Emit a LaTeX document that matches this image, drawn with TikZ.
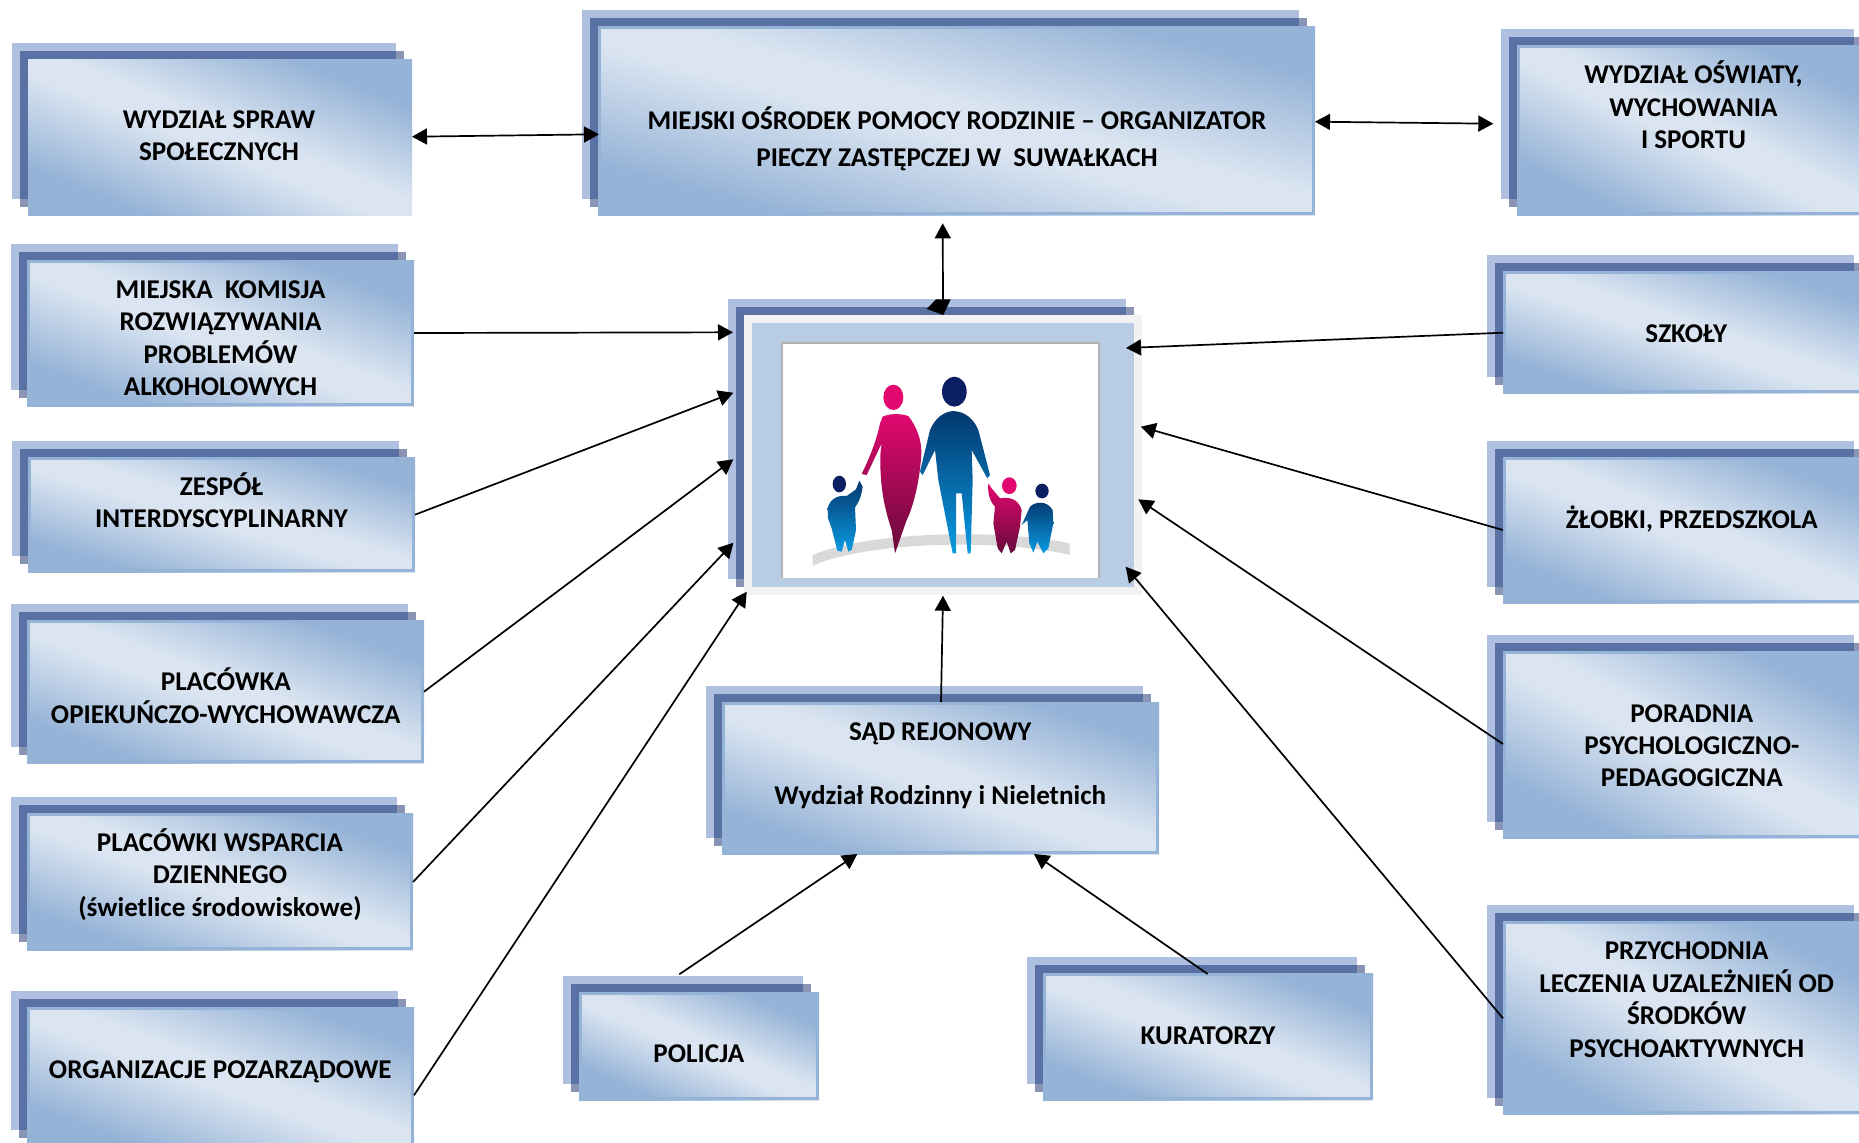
\documentclass[tikz,border=0pt]{standalone}
\usepackage{fontspec}
\setmainfont{Carlito}
\usetikzlibrary{arrows.meta}
\definecolor{gd}{HTML}{95B3D7}
\definecolor{gl}{HTML}{DBE5F1}
\definecolor{innerblue}{HTML}{B8CCE4}
\definecolor{backlight}{HTML}{AFBFE0}
\definecolor{backdark}{HTML}{5A71A3}
\definecolor{backfade}{HTML}{8A95B5}
\definecolor{pinkhi}{HTML}{E2086F}
\definecolor{pinklo}{HTML}{660A3A}
\definecolor{bluehi}{HTML}{04376E}
\definecolor{bluelo}{HTML}{0A9BE2}
\definecolor{navyh}{HTML}{0B1F62}
\pgfdeclareverticalshading{boxgrad}{100bp}{color(0bp)=(gd); color(27.5bp)=(gd); color(47bp)=(gl); color(53bp)=(gl); color(72.5bp)=(gd); color(100bp)=(gd)}
\newcommand{\st}{\rule[-3.5pt]{0pt}{\baselineskip}}
\newcommand{\backs}[4]{%
  \fill[backlight] (#1-16,#2-16) rectangle (#3-16,#4-16);
  \fill[backfade] (#1-8,#2-8) rectangle (#3-8,#4-8);
  \fill[backdark] (#1-8,#2-8) rectangle (#3-16,#4-16);}
\newcommand{\bxn}[5]{% name x1 y1 x2 y2 : no edge
  \backs{#2}{#3}{#4}{#5}%
  \pgfmathsetmacro{\cxx}{(#2+#4)/2}%
  \pgfmathsetmacro{\cyy}{(#3+#5)/2}%
  \pgfmathsetmacro{\ww}{(#4-#2)/2}%
  \pgfmathsetmacro{\hh}{(#5-#3)/2}%
  \pgfmathsetmacro{\ang}{-atan(\hh/\ww)}%
  \node[frontbox,minimum width=\ww pt,minimum height=\hh pt,shading angle=\ang] (#1) at (\cxx,\cyy) {};}
\newcommand{\bx}[5]{%
  \bxn{#1}{#2}{#3}{#4}{#5}%
  \draw[boxedge] (#2+1.3,#3+1.3) rectangle (#4-1.3,#5-1.3);}
\tikzset{
  frontbox/.style={rectangle,inner sep=0pt,outer sep=0pt,shading=boxgrad},
  boxedge/.style={draw=gd,line width=1.3pt},
  lbl/.style={align=center,inner sep=0pt,text=black,yshift=1.9pt,font=\fontsize{13.55}{16.2}\selectfont\bfseries},
  lblwide/.style={align=center,inner sep=0pt,text=black,yshift=1.9pt,font=\fontsize{13.55}{18.5}\selectfont\bfseries},
  arr/.style={-{Triangle[length=7.5pt,width=8pt]},line width=.85pt,black},
  darr/.style={{Triangle[length=7.5pt,width=8pt]}-{Triangle[length=7.5pt,width=8pt]},line width=.85pt,black},
}
\begin{document}
\begin{tikzpicture}[x=0.5pt,y=-0.5pt]
\useasboundingbox (0,0) rectangle (1859,1142);
\clip (0,0) rectangle (1859,1142);
\fill[white] (0,0) rectangle (1859,1142);
% boxes
\bxn{n1}{28}{59}{412}{215}
\bx{n2}{27}{260}{414}{406}
\bx{n3}{28}{457}{415}{572}
\bx{n4}{27}{620}{424}{763}
\bx{n5}{27}{813}{413}{950}
\bx{n6}{27}{1007}{414}{1146}
\bx{n7}{598}{26}{1315}{215}
\bx{n8}{1517}{45}{1870}{215}
\bx{n9}{1503}{271}{1870}{393}
\bx{n10}{1503}{457}{1870}{603}
\bx{n11}{1503}{651}{1870}{838}
\bx{n12}{1503}{921}{1870}{1114}
\bx{n13}{722}{702}{1159}{854}
\bx{n14}{579}{992}{819}{1100}
\bx{n15}{1043}{973}{1373}{1100}
% central box
\backs{744}{315}{1142}{595}
\node[rectangle,inner sep=0pt,outer sep=0pt,fill=black!5,minimum width=199pt,minimum height=140pt] (n0) at (943,455) {};
\node[rectangle,inner sep=0pt,outer sep=0pt,fill=innerblue,minimum width=191pt,minimum height=132pt] (n0b) at (943,455) {};
\node[rectangle,inner sep=0pt,outer sep=0pt,fill=white,minimum width=158.5pt,minimum height=117.5pt] (n0p) at (940.5,460.5) {};
\draw[black!30,line width=.7pt] (n0p.south west) -- (n0p.north west) -- (n0p.north east) -- (n0p.south east);
% family
\begin{scope}[shift={(700,280)},x=0.16667pt,y=-0.16667pt]
\fill[black!15] (338,825) .. controls (500,755) and (900,745) .. (1108,790) -- (1110,825) .. controls (900,775) and (500,785) .. (338,857) -- cycle;
\fill[pinkhi] (580,352) ellipse [x radius=30,y radius=38];
\shade[top color=pinkhi,bottom color=pinklo] (548,410) .. controls (570,400) and (600,400) .. (625,408) .. controls (650,440) and (665,480) .. (664,520) .. controls (660,600) and (640,680) .. (620,720) -- (585,820) -- (575,750) .. controls (555,690) and (545,640) .. (542,580) .. controls (540,550) and (540,520) .. (545,490) -- (500,585) -- (485,582) .. controls (510,530) and (530,480) .. (540,430) -- cycle;
\fill[navyh] (763,335) ellipse [x radius=37,y radius=45];
\shade[top color=bluehi,bottom color=bluelo] (760,393) .. controls (730,395) and (705,415) .. (690,450) -- (660,575) -- (668,585) -- (705,510) -- (715,600) -- (758,820) -- (768,820) -- (768,640) -- (785,640) -- (803,820) -- (812,820) -- (818,600) -- (815,510) -- (862,595) -- (870,585) -- (835,450) .. controls (820,415) and (795,395) .. (760,393) -- cycle;
\fill[navyh] (418,612) ellipse [x radius=20,y radius=25];
\shade[top color=bluehi,bottom color=bluelo] (383,685) .. controls (390,655) and (415,645) .. (440,648) -- (468,628) -- (478,602) -- (488,620) .. controls (484,650) and (475,670) .. (465,682) -- (468,750) -- (455,810) -- (445,815) -- (435,780) -- (425,815) -- (412,812) -- (395,745) -- (384,715) -- cycle;
\fill[pinkhi] (928,617) ellipse [x radius=22,y radius=25];
\shade[top color=pinkhi,bottom color=pinklo] (865,610) -- (875,625) -- (900,655) .. controls (925,650) and (955,655) .. (965,690) -- (960,740) -- (945,810) -- (932,820) -- (920,785) -- (905,820) -- (893,805) -- (880,730) -- (885,680) .. controls (870,665) and (862,640) .. (865,610) -- cycle;
\fill[navyh] (1026,633) ellipse [x radius=20,y radius=22];
\shade[top color=bluehi,bottom color=bluelo] (965,735) -- (990,680) .. controls (1005,665) and (1040,660) .. (1058,690) -- (1060,730) -- (1045,805) -- (1030,820) -- (1012,785) -- (1000,818) -- (988,790) -- (982,720) -- cycle;
\end{scope}
% labels
\node[lbl] (t1) at (219,139) {\st WYDZIAŁ SPRAW\\\st SPOŁECZNYCH};
\begin{scope}
\clip (27,260) rectangle (414,395);
\node[lbl] (t2) at (220.5,341.5) {\st MIEJSKA\ \ KOMISJA\\\st ROZWIĄZYWANIA\\\st PROBLEMÓW\\\st ALKOHOLOWYCH};
\end{scope}
\node[lbl] (t3) at (221.5,506.3) {\st ZESPÓŁ\\\st INTERDYSCYPLINARNY};
\node[lbl] (t4) at (225.8,701.5) {\st PLACÓWKA\\\st OPIEKUŃCZO-WYCHOWAWCZA};
\node[lbl] (t5) at (220,878.3) {\st PLACÓWKI WSPARCIA\\\st DZIENNEGO\\\st (świetlice środowiskowe)};
\node[lbl] (t6) at (220.3,1072.6) {\st ORGANIZACJE POZARZĄDOWE};
\node[lblwide] (t7) at (957,140.2) {\st MIEJSKI OŚRODEK POMOCY RODZINIE – ORGANIZATOR\\\st PIECZY ZASTĘPCZEJ W\ \ SUWAŁKACH};
\node[lbl] (t8) at (1693.5,110.8) {\st WYDZIAŁ OŚWIATY,\\\st WYCHOWANIA\\\st I SPORTU};
\node[lbl] (t9) at (1686.3,337.3) {\st SZKOŁY};
\node[lbl] (t10) at (1691.7,523.3) {\st ŻŁOBKI, PRZEDSZKOLA};
\node[lbl] (t11) at (1691.8,749) {\st PORADNIA\\\st PSYCHOLOGICZNO-\\\st PEDAGOGICZNA};
\node[lbl] (t12) at (1686.7,1003) {\st PRZYCHODNIA\\\st LECZENIA UZALEŻNIEŃ OD\\\st ŚRODKÓW\\\st PSYCHOAKTYWNYCH};
\node[lbl] (t13) at (940.3,767) {\st SĄD REJONOWY\\\st \\\st Wydział Rodzinny i Nieletnich};
\node[lbl] (t14) at (698.8,1056.6) {\st POLICJA};
\node[lbl] (t15) at (1208,1039) {\st KURATORZY};
% connector ends around the central box
\coordinate (c2) at (733,332.3);
\coordinate (c3) at (733.3,392.7);
\coordinate (c4) at (733.3,459.3);
\coordinate (c5) at (733.5,542.7);
\coordinate (c6) at (746.7,591.7);
\coordinate (c9) at (1126,348);
\coordinate (c10) at (1140.7,426.7);
\coordinate (c11) at (1138.3,499.3);
\coordinate (c12) at (1125.7,566.7);
\coordinate (c13) at (943,595.7);
\coordinate (c7) at (943,299.5);
\coordinate (c7up) at (942.7,223.3);
\coordinate (t14a) at (679.3,974.3);
\coordinate (t15a) at (1207.7,974);
\coordinate (s14) at (857.3,854);
\coordinate (s15) at (1034,854);
\coordinate (l1) at (599,134.3);
\coordinate (r8) at (1493.3,123.7);
% connectors
\draw[darr] (n1.east |- 0,136.7) -- (l1);
\draw[darr] (n7.east |- 0,121.7) -- (r8);
\draw[arr] (c7) -- (c7up);
\fill[black] (926.7,309) -- (936,299.3) -- (950.7,299.3) -- (943.3,315) -- cycle;
\draw[arr] (n2.east |- 0,333) -- (c2);
\draw[arr] (n3.east |- 0,514.7) -- (c3);
\draw[arr] (n4.east |- 0,691.7) -- (c4);
\draw[arr] (n5.east |- 0,882) -- (c5);
\draw[arr] (n6.east |- 0,1095.3) -- (c6);
\draw[arr] (n9.west |- 0,332.7) -- (c9);
\draw[arr] (n10.west |- 0,530) -- (c10);
\draw[arr] (n11.west |- 0,744) -- (c11);
\draw[arr] (n12.west |- 0,1018.3) -- (c12);
\draw[arr] (941,0 |- n13.north) -- (c13);
\draw[arr] (t14a) -- (s14);
\draw[arr] (t15a) -- (s15);
\end{tikzpicture}
\end{document}
